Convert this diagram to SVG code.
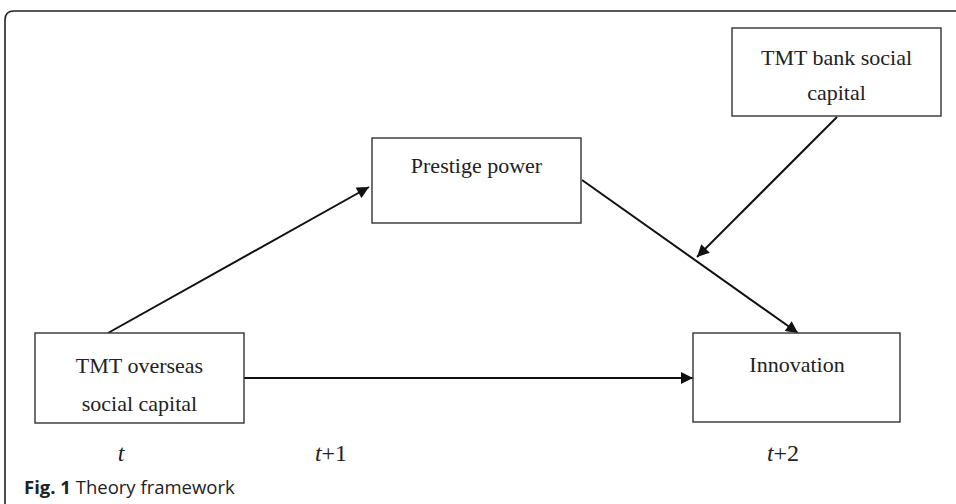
<svg xmlns="http://www.w3.org/2000/svg" width="956" height="504" viewBox="0 0 956 504">
<defs>
<style>
.box{fill:#fff;stroke:#333;stroke-width:1.4}
.lbl{font-family:"Liberation Serif","Times New Roman",serif;font-size:22px;fill:#222;text-anchor:middle}
.tl{font-family:"Liberation Serif","Times New Roman",serif;font-size:24px;fill:#222;text-anchor:middle}
.conn{stroke:#111;stroke-width:2;fill:none;marker-end:url(#ah)}
.cap{font-family:"Open Sans","Noto Sans",sans-serif;font-size:18.5px;fill:#222}
</style>
<marker id="ah" viewBox="0 0 10 10" refX="10" refY="5" markerWidth="7" markerHeight="6" markerUnits="strokeWidth" orient="auto">
<path d="M0,0 L10,5 L0,10 z" fill="#111"/>
</marker>
</defs>
<rect width="956" height="504" fill="#fff"/>
<path d="M5,504 V20 Q5,11 14,11 H956" fill="none" stroke="#222" stroke-width="1.6"/>
<g id="connectors">
<line class="conn" x1="108" y1="333" x2="369" y2="187"/>
<line class="conn" x1="582" y1="180" x2="798" y2="333"/>
<line class="conn" x1="837" y1="117" x2="697" y2="257"/>
<line class="conn" x1="244" y1="378" x2="693" y2="378"/>
</g>
<g id="bank">
<rect class="box" x="732" y="28" width="209" height="88"/>
<text class="lbl" x="836.5" y="65">TMT bank social</text>
<text class="lbl" x="836.5" y="100">capital</text>
</g>
<g id="prestige">
<rect class="box" x="372" y="138" width="209" height="85"/>
<text class="lbl" x="476.5" y="173">Prestige power</text>
</g>
<g id="overseas">
<rect class="box" x="35" y="333" width="209" height="90"/>
<text class="lbl" x="139.5" y="373">TMT overseas</text>
<text class="lbl" x="139.5" y="411">social capital</text>
</g>
<g id="innovation">
<rect class="box" x="693" y="333" width="207" height="89"/>
<text class="lbl" x="797" y="372">Innovation</text>
</g>
<g id="time">
<text class="tl" x="121" y="461" font-style="italic">t</text>
<text class="tl" x="331" y="461"><tspan font-style="italic">t</tspan>+1</text>
<text class="tl" x="783" y="461"><tspan font-style="italic">t</tspan>+2</text>
</g>
<text class="cap" x="24" y="494"><tspan font-weight="bold">Fig. 1</tspan> Theory framework</text>
</svg>
